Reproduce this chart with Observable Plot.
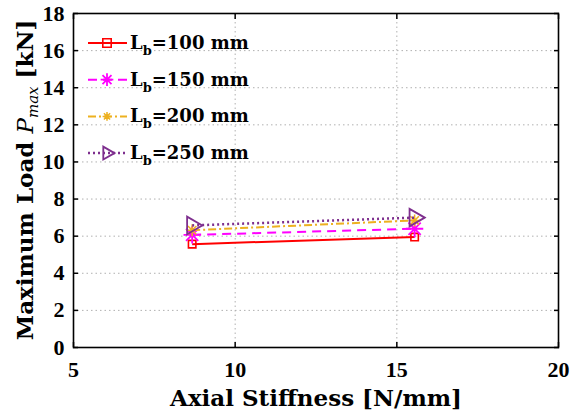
<!DOCTYPE html>
<html><head><meta charset="utf-8">
<script src="https://cdn.jsdelivr.net/npm/d3@7"></script>
<script src="https://cdn.jsdelivr.net/npm/@observablehq/plot@0.6"></script>
<style>
body{margin:0;background:#fff;}
#chart{position:relative;width:571px;height:419px;}
</style></head>
<body><div id="chart"></div>
<script>
const stiffness = [8.67, 15.55];
const lengths = ["100", "150", "200", "250"];
const load100 = [5.57, 5.95];
const load150 = [6.07, 6.40];
const load200 = [6.32, 6.85];
const load250 = [6.58, 7.00];
const xTicks = [5, 10, 15, 20];
const yTicks = [0, 2, 4, 6, 8, 10, 12, 14, 16, 18];

const FONT = "'Liberation Serif', serif";
const WIDE = "'DejaVu Serif', serif";
const loads = [load100, load150, load200, load250];
const rows = [];
lengths.forEach((L, i) => stiffness.forEach((s, j) => rows.push({L, s, p: loads[i][j]})));

const star8 = {draw(ctx, size) {
  const r = Math.sqrt(size) * 0.75;
  for (let k = 0; k < 4; k++) {
    const a = k * Math.PI / 4;
    ctx.moveTo(r * Math.cos(a), r * Math.sin(a));
    ctx.lineTo(-r * Math.cos(a), -r * Math.sin(a));
  }
}};

const styles = {
  "100": {color: "#ff0000", dash: null, w: 2, symbol: "square", r: 4.2, rotate: 0, sw: 1.6},
  "150": {color: "#ff00ff", dash: "9,6", w: 2, symbol: star8, r: 6.5, rotate: 0, sw: 1.8},
  "200": {color: "#edb120", dash: "8,3,2,3", w: 2, symbol: star8, r: 4.5, rotate: 0, sw: 1.5},
  "250": {color: "#7e2f8e", dash: "2,3", w: 2.5, symbol: "triangle", r: 6.5, rotate: 90, sw: 1.8}
};

const marks = [
  Plot.gridX(xTicks.slice(1, 3), {stroke: "#b0b0b0", strokeOpacity: 1, strokeDasharray: "1.5,3", strokeWidth: 1}),
  Plot.gridY(yTicks.slice(1, 9), {stroke: "#b0b0b0", strokeOpacity: 1, strokeDasharray: "1.5,3", strokeWidth: 1}),
];
for (const L of lengths) {
  const st = styles[L];
  const d = rows.filter(r => r.L === L);
  marks.push(Plot.line(d, {x: "s", y: "p", stroke: st.color, strokeWidth: st.w, strokeDasharray: st.dash, strokeLinecap: "butt"}));
  marks.push(Plot.dot(d, {x: "s", y: "p", symbol: st.symbol, r: st.r, rotate: st.rotate, stroke: st.color, strokeWidth: st.sw, fill: "none"}));
}
marks.push(
  Plot.frame({stroke: "#000", strokeWidth: 1.6}),
  Plot.axisX(xTicks, {anchor: "bottom", tickSize: -5, tickPadding: 19, fontSize: 22, fontWeight: "bold", fill: "#000", strokeWidth: 1.5, label: null}),
  Plot.axisX(xTicks, {anchor: "top", tickSize: -5, text: () => "", strokeWidth: 1.5, label: null}),
  Plot.axisY(yTicks, {anchor: "left", tickSize: -5, tickPadding: 14, fontSize: 22, fontWeight: "bold", fill: "#000", strokeWidth: 1.5, label: null}),
  Plot.axisY(yTicks, {anchor: "right", tickSize: -5, text: () => "", strokeWidth: 1.5, label: null})
);

const chart = Plot.plot({
  width: 571, height: 419,
  marginLeft: 73, marginRight: 13, marginTop: 13, marginBottom: 72,
  x: {domain: [5, 20]},
  y: {domain: [0, 18]},
  style: {fontFamily: FONT, background: "#fff", overflow: "visible"},
  marks
});
document.getElementById("chart").appendChild(chart);

const svg = d3.select(chart);
svg.append("text")
  .attr("x", 316).attr("y", 406)
  .attr("text-anchor", "middle").attr("font-family", WIDE)
  .attr("font-size", 23).attr("font-weight", "bold").attr("fill", "#000")
  .text("Axial Stiffness [N/mm]");

const yl = svg.append("text")
  .attr("transform", "translate(33,180) rotate(-90)")
  .attr("text-anchor", "middle").attr("font-family", WIDE)
  .attr("font-size", 23).attr("fill", "#000");
yl.append("tspan").attr("font-weight", "bold").text("Maximum Load ");
yl.append("tspan").attr("font-style", "italic").text("P");
yl.append("tspan").attr("font-style", "italic").attr("font-size", 15).attr("dy", 5).text("max");
yl.append("tspan").attr("font-weight", "bold").attr("dy", -5).text(" [kN]");

// legend
const lg = svg.append("g").attr("text-anchor", "start");
lengths.forEach((L, i) => {
  const st = styles[L];
  const y = 43 + i * 36.7;
  lg.append("line").attr("x1", 88).attr("x2", 127).attr("y1", y).attr("y2", y)
    .attr("stroke", st.color).attr("stroke-width", st.w).attr("stroke-dasharray", st.dash);
  const sym = st.symbol === "square" ? d3.symbolSquare : st.symbol === "triangle" ? d3.symbolTriangle : st.symbol;
  const size = st.symbol === "square" ? (st.r * 2) ** 2 : st.r * st.r * 1.7;
  lg.append("path").attr("d", d3.symbol(sym, size)())
    .attr("transform", `translate(107,${y}) rotate(${st.rotate})`)
    .attr("fill", "none").attr("stroke", st.color).attr("stroke-width", st.sw);
  const t = lg.append("text").attr("x", 130).attr("y", y + 6).attr("text-anchor", "start")
    .attr("font-family", WIDE)
    .attr("font-size", 18).attr("font-weight", "bold").attr("fill", "#000");
  t.append("tspan").text("L");
  t.append("tspan").attr("font-size", 13).attr("dy", 6).text("b");
  t.append("tspan").attr("dy", -6).text("=" + L + " mm");
});
</script></body></html>
